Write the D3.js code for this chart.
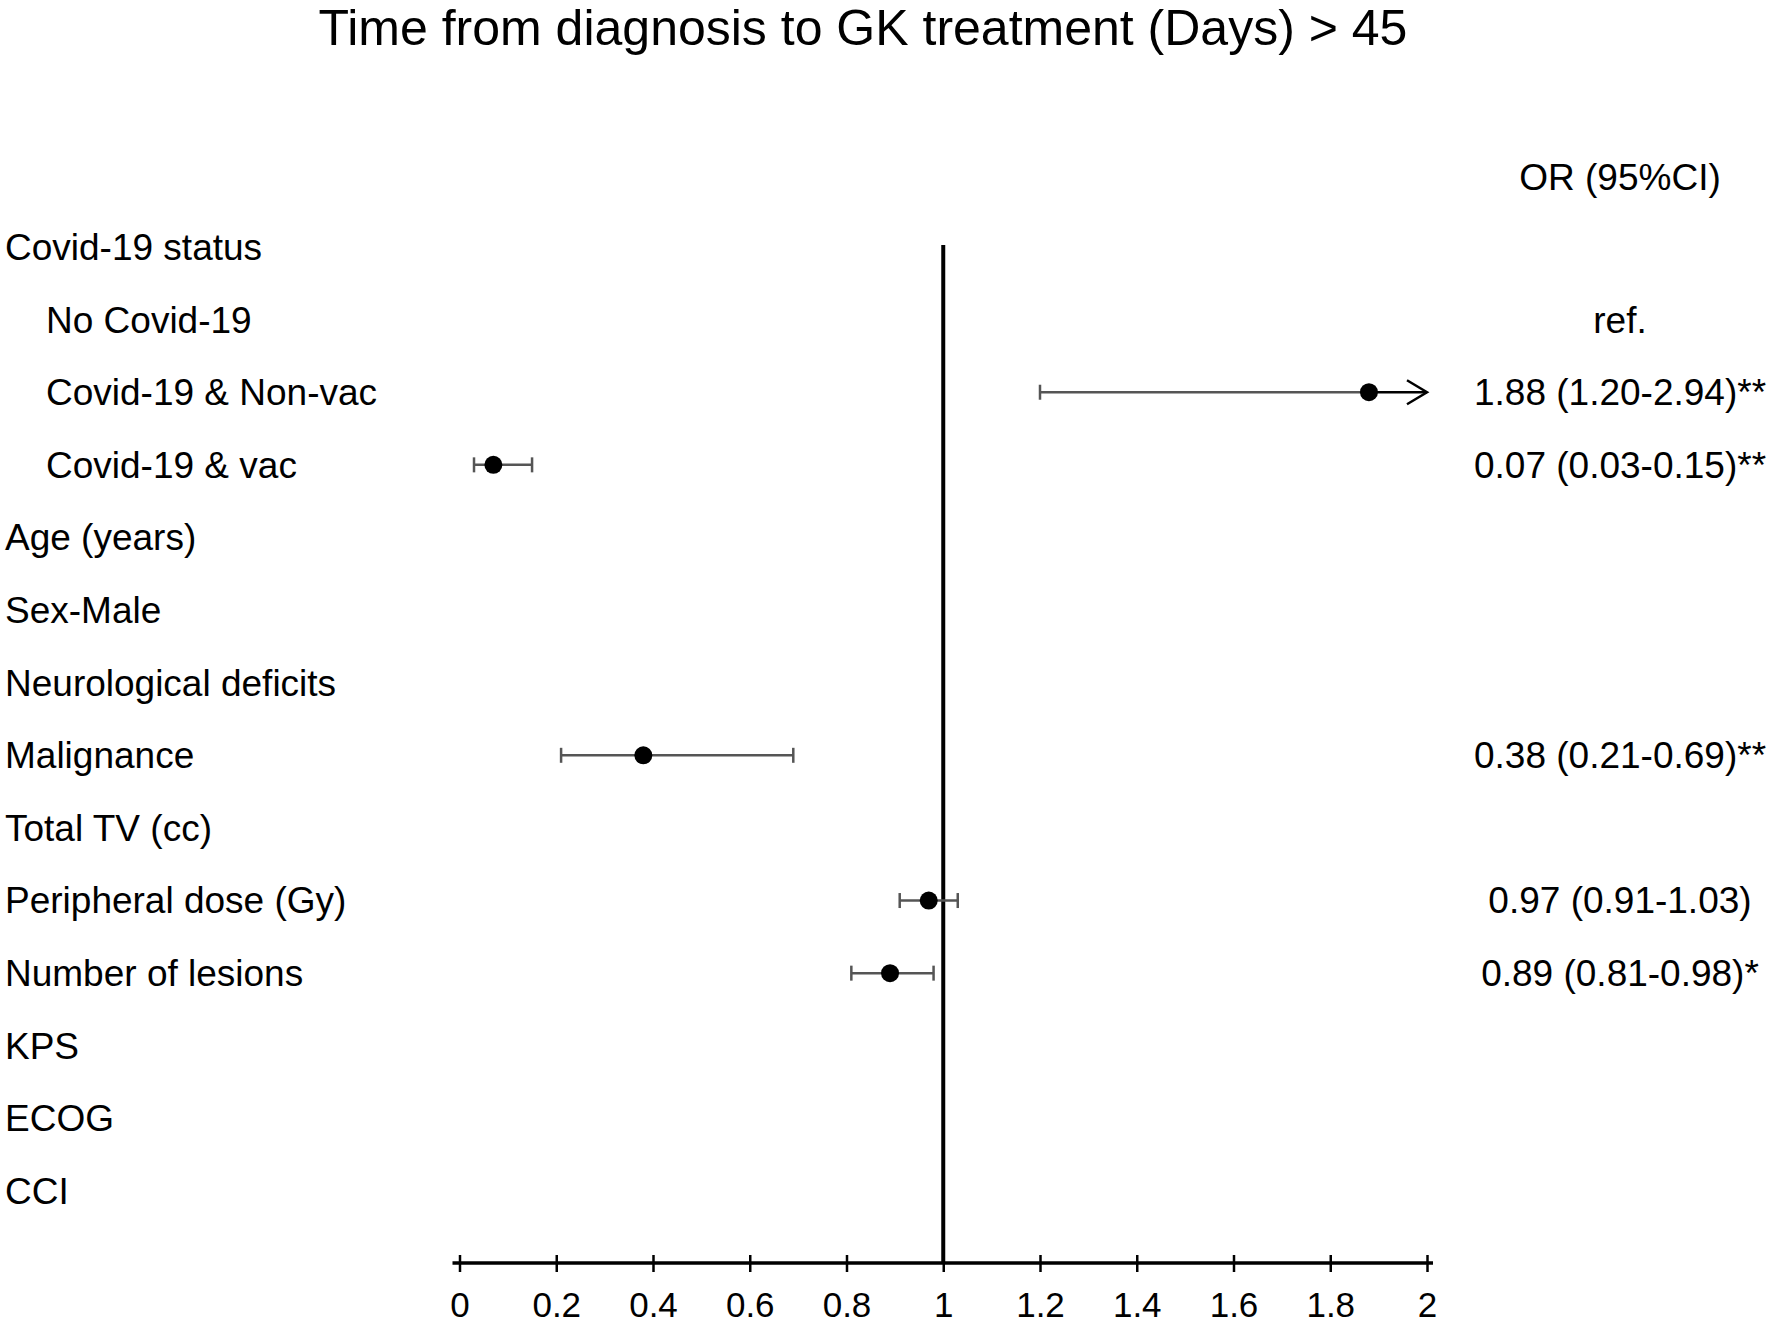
<!DOCTYPE html>
<html>
<head>
<meta charset="utf-8">
<script src="https://cdn.jsdelivr.net/npm/d3@7"></script>
<style>
  html, body { margin: 0; padding: 0; background: #fff; }
  svg { display: block; font-family: "Liberation Sans", Arial, sans-serif; }
</style>
</head>
<body>
<svg id="chart" width="1770" height="1325"></svg>
<script>
// ---- Data ----
const title = "Time from diagnosis to GK treatment (Days) > 45";
const columnHeader = "OR (95%CI)";
const labels = ["Covid-19 status", "No Covid-19", "Covid-19 & Non-vac", "Covid-19 & vac",
  "Age (years)", "Sex-Male", "Neurological deficits", "Malignance", "Total TV (cc)",
  "Peripheral dose (Gy)", "Number of lesions", "KPS", "ECOG", "CCI"];
const indented = [false, true, true, true, false, false, false, false, false, false, false, false, false, false];
const orValues = [null, null, 1.88, 0.07, null, null, null, 0.38, null, 0.97, 0.89, null, null, null];
const ciLower  = [null, null, 1.20, 0.03, null, null, null, 0.21, null, 0.91, 0.81, null, null, null];
const ciUpper  = [null, null, 2.94, 0.15, null, null, null, 0.69, null, 1.03, 0.98, null, null, null];
const orTexts  = ["", "ref.", "1.88 (1.20-2.94)**", "0.07 (0.03-0.15)**", "", "", "",
  "0.38 (0.21-0.69)**", "", "0.97 (0.91-1.03)", "0.89 (0.81-0.98)*", "", "", ""];
const tickValues = [0, 0.2, 0.4, 0.6, 0.8, 1, 1.2, 1.4, 1.6, 1.8, 2];
const tickLabels = ["0", "0.2", "0.4", "0.6", "0.8", "1", "1.2", "1.4", "1.6", "1.8", "2"];
const xDomain = [0, 2];
const refValue = 1;

// ---- Layout ----
const svg = d3.select("#chart");
const x = d3.scaleLinear().domain(xDomain).range([459.5, 1427]);
const y = d3.scalePoint().domain(d3.range(labels.length)).range([247, 1191]);
const axisY = 1263;
const grey = "#555";
const fontSize = 37;

// Title
svg.append("text")
  .attr("x", 863).attr("y", 45)
  .attr("text-anchor", "middle")
  .attr("font-size", 50)
  .attr("fill", "#000")
  .text(title);

// Column header
svg.append("text")
  .attr("x", 1620).attr("y", 177)
  .attr("dy", "0.35em")
  .attr("text-anchor", "middle")
  .attr("font-size", fontSize)
  .text(columnHeader);

// Row labels
svg.append("g").selectAll("text")
  .data(labels)
  .join("text")
  .attr("x", (d, i) => indented[i] ? 46 : 5)
  .attr("y", (d, i) => y(i))
  .attr("dy", "0.35em")
  .attr("font-size", fontSize)
  .text(d => d);

// OR texts
svg.append("g").selectAll("text")
  .data(orTexts)
  .join("text")
  .attr("x", 1620)
  .attr("y", (d, i) => y(i))
  .attr("dy", "0.35em")
  .attr("text-anchor", "middle")
  .attr("font-size", fontSize)
  .text(d => d);

// Reference line
svg.append("line")
  .attr("x1", x(refValue)).attr("x2", x(refValue))
  .attr("y1", 245).attr("y2", axisY)
  .attr("stroke", "#000").attr("stroke-width", 4);

// Axis
const axis = d3.axisBottom(x)
  .tickValues(tickValues)
  .tickFormat((d, i) => tickLabels[i])
  .tickSize(8)
  .tickPadding(0);
const gAxis = svg.append("g")
  .attr("transform", `translate(0,${axisY})`)
  .call(axis);
gAxis.select(".domain").remove();
gAxis.selectAll(".tick line")
  .attr("y1", -8).attr("y2", 9)
  .attr("stroke", "#000").attr("stroke-width", 2.5);
gAxis.selectAll(".tick text")
  .attr("y", 54).attr("dy", 0)
  .attr("font-size", 35)
  .attr("font-family", "Liberation Sans, Arial, sans-serif")
  .attr("fill", "#000");
gAxis.insert("line", ":first-child")
  .attr("x1", x(xDomain[0]) - 7).attr("x2", x(xDomain[1]) + 6)
  .attr("y1", 0).attr("y2", 0)
  .attr("stroke", "#000").attr("stroke-width", 3.5);

// CI bars and points
const rows = d3.range(labels.length).filter(i => orValues[i] !== null);
const gMarks = svg.append("g");
rows.forEach(i => {
  const yy = y(i);
  const lo = ciLower[i], hi = ciUpper[i], v = orValues[i];
  const clipped = hi > xDomain[1];
  const g = gMarks.append("g");
  if (clipped) {
    g.append("line")
      .attr("x1", x(lo)).attr("x2", x(v))
      .attr("y1", yy).attr("y2", yy)
      .attr("stroke", grey).attr("stroke-width", 2.5);
    g.append("line")
      .attr("x1", x(v)).attr("x2", x(xDomain[1]))
      .attr("y1", yy).attr("y2", yy)
      .attr("stroke", "#000").attr("stroke-width", 2.5);
    const tip = x(xDomain[1]);
    g.append("path")
      .attr("d", `M${tip - 20},${yy - 12} L${tip},${yy} L${tip - 20},${yy + 12}`)
      .attr("fill", "none").attr("stroke", "#000").attr("stroke-width", 2.5);
  } else {
    g.append("line")
      .attr("x1", x(lo)).attr("x2", x(hi))
      .attr("y1", yy).attr("y2", yy)
      .attr("stroke", grey).attr("stroke-width", 2.5);
    g.append("line")
      .attr("x1", x(hi)).attr("x2", x(hi))
      .attr("y1", yy - 7.5).attr("y2", yy + 7.5)
      .attr("stroke", grey).attr("stroke-width", 2.5);
  }
  g.append("line")
    .attr("x1", x(lo)).attr("x2", x(lo))
    .attr("y1", yy - 7.5).attr("y2", yy + 7.5)
    .attr("stroke", grey).attr("stroke-width", 2.5);
  g.append("circle")
    .attr("cx", x(v)).attr("cy", yy)
    .attr("r", 9).attr("fill", "#000");
});
</script>
</body>
</html>
